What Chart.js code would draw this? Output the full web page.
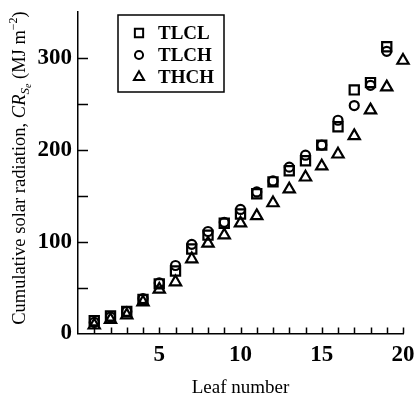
<!DOCTYPE html>
<html>
<head>
<meta charset="utf-8">
<script src="https://cdn.jsdelivr.net/npm/chart.js@4"></script>
<style>
  html, body { margin: 0; padding: 0; background: #fff; }
  #wrap { width: 416px; height: 403px; }
</style>
</head>
<body>
<div id="wrap"><canvas id="leafChart" width="416" height="403"></canvas></div>
<script>
const leafTLCL = [1, 2, 3, 4, 5, 6, 7, 8, 9, 10, 11, 12, 13, 14, 15, 16, 17, 18, 19];
const valTLCL = [14, 19, 24, 37, 54, 68, 92, 107, 120, 130, 152, 165, 177, 188, 205, 225, 265, 273, 312];
const leafTLCH = [1, 2, 3, 4, 5, 6, 7, 8, 9, 10, 11, 12, 13, 14, 15, 16, 17, 18, 19];
const valTLCH = [12, 18, 24, 38, 55, 74, 97, 111, 121, 135, 154, 166, 181, 194, 205, 232, 248, 270, 307];
const leafTHCH = [1, 2, 3, 4, 5, 6, 7, 8, 9, 10, 11, 12, 13, 14, 15, 16, 17, 18, 19, 20];
const valTHCH = [9, 15, 20, 34, 48, 56, 81, 98, 107, 120, 128, 142, 157, 170, 182, 195, 215, 243, 268, 297];
const xLabels = [5, 10, 15, 20];
const yLabels = [0, 100, 200, 300];

const serif = '"Liberation Serif", "Times New Roman", serif';

function pts(xs, ys) {
  return xs.map((x, i) => ({ x: x, y: ys[i] }));
}

// inward tick marks, legend box and the y title with sub/superscripts
const decor = {
  id: 'decor',
  afterDraw(chart) {
    const ctx = chart.ctx;
    const xs = chart.scales.x, ys = chart.scales.y;
    const area = chart.chartArea;
    ctx.save();
    ctx.strokeStyle = '#000';
    ctx.lineWidth = 1.5;
    ctx.beginPath();
    for (let v = 1; v <= 20; v++) {
      const px = Math.round(xs.getPixelForValue(v)) + 0.5;
      ctx.moveTo(px, area.bottom);
      ctx.lineTo(px, area.bottom - 6);
    }
    for (let v = 50; v <= 300; v += 50) {
      const py = Math.round(ys.getPixelForValue(v)) + 0.5;
      ctx.moveTo(area.left, py);
      ctx.lineTo(area.left + 10, py);
    }
    ctx.stroke();

    // legend
    const bx = 118, by = 15, bw = 106, bh = 77;
    ctx.lineWidth = 1.5;
    ctx.strokeRect(bx, by, bw, bh);
    ctx.textBaseline = 'middle';
    chart.data.datasets.forEach((ds, i) => {
      const cy = by + 18 + i * 22;
      ctx.lineWidth = 2;
      ctx.strokeStyle = '#000';
      ctx.fillStyle = 'rgba(0,0,0,0)';
      Chart.helpers.drawPoint(ctx, {
        pointStyle: ds.pointStyle,
        radius: ds.pointRadius * 0.9,
        rotation: 0,
        borderWidth: 2
      }, bx + 21, cy);
      ctx.fillStyle = '#000';
      ctx.font = 'bold 19px ' + serif;
      ctx.fillText(ds.label, bx + 40, cy + 1);
    });

    // y title
    ctx.translate(19, 168);
    ctx.rotate(-Math.PI / 2);
    ctx.textBaseline = 'alphabetic';
    ctx.fillStyle = '#000';
    const parts = [
      ['Cumulative solar radiation, ', '18.5px ' + serif, 0],
      ['CR', 'italic 18.5px ' + serif, 0],
      ['S', 'italic 13px ' + serif, 4],
      ['e', 'italic 10px ' + serif, 6],
      [' (MJ m', '18.5px ' + serif, 0],
      ['\u22122', '12px ' + serif, -8],
      [')', '18.5px ' + serif, 0]
    ];
    let total = 0;
    parts.forEach(p => { ctx.font = p[1]; total += ctx.measureText(p[0]).width; });
    let x = -total / 2;
    parts.forEach(p => {
      ctx.font = p[1];
      ctx.fillText(p[0], x, 6 + p[2]);
      x += ctx.measureText(p[0]).width;
    });
    ctx.restore();
  }
};

new Chart(document.getElementById('leafChart').getContext('2d'), {
  type: 'scatter',
  data: {
    datasets: [
      {
        label: 'TLCL',
        data: pts(leafTLCL, valTLCL),
        pointStyle: 'rect',
        pointRadius: 6.5,
        borderColor: '#000',
        backgroundColor: 'rgba(0,0,0,0)',
        borderWidth: 2.2
      },
      {
        label: 'TLCH',
        data: pts(leafTLCH, valTLCH),
        pointStyle: 'circle',
        pointRadius: 4.5,
        borderColor: '#000',
        backgroundColor: 'rgba(0,0,0,0)',
        borderWidth: 2.2
      },
      {
        label: 'THCH',
        data: pts(leafTHCH, valTHCH),
        pointStyle: 'triangle',
        pointRadius: 6.5,
        borderColor: '#000',
        backgroundColor: 'rgba(0,0,0,0)',
        borderWidth: 2.2
      }
    ]
  },
  options: {
    responsive: false,
    animation: false,
    clip: false,
    layout: { padding: { top: 8, right: 13, left: 0, bottom: 0 } },
    plugins: {
      legend: { display: false },
      tooltip: { enabled: false }
    },
    scales: {
      x: {
        type: 'linear',
        min: 0,
        max: 20,
        afterFit(scale) { scale.height = 69.5; },
        border: { color: '#000', width: 1.5 },
        grid: { display: false },
        ticks: {
          stepSize: 1,
          autoSkip: false,
          maxRotation: 0,
          padding: 0,
          color: '#000',
          font: { family: serif, size: 23, weight: 'bold' },
          callback: v => xLabels.includes(v) ? String(v) : ''
        },
        title: {
          display: true,
          text: 'Leaf number',
          color: '#000',
          font: { family: serif, size: 19 },
          padding: { top: 12 }
        }
      },
      y: {
        type: 'linear',
        min: 0,
        max: 350,
        afterFit(scale) { scale.width = 78; },
        border: { color: '#000', width: 1.5 },
        grid: { display: false },
        ticks: {
          stepSize: 50,
          autoSkip: false,
          padding: -2,
          color: '#000',
          font: { family: serif, size: 23, weight: 'bold' },
          callback: v => yLabels.includes(v) ? String(v) : ''
        }
      }
    }
  },
  plugins: [decor]
});
</script>
</body>
</html>
